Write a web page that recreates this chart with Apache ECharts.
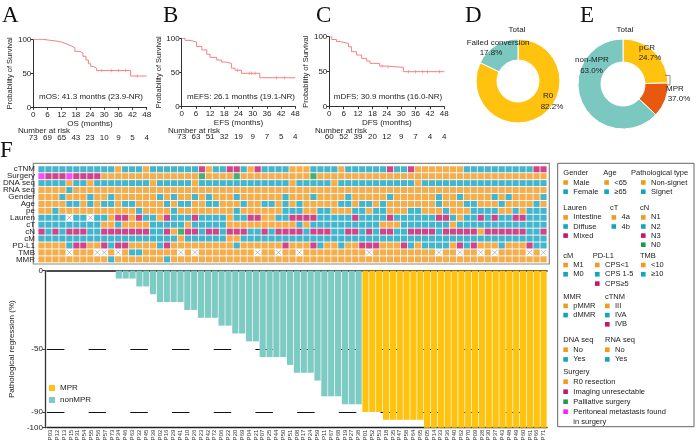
<!DOCTYPE html>
<html>
<head>
<meta charset="utf-8">
<script src="https://cdn.jsdelivr.net/npm/echarts@6/dist/echarts.min.js"></script>
<style>
  html, body { margin: 0; padding: 0; background: #fff; }
  #chart { width: 697px; height: 448px; }
</style>
</head>
<body>
<div id="chart"></div>
<script>
// ---- survival curves ----
const osTime = [0, 4, 7, 10, 12, 14, 16, 17.6, 19.8, 21, 22.3, 23.3, 24.3, 25.4, 26.8, 41.2, 48];
const osSurv = [100, 98.6, 97.3, 95.9, 93.2, 90.4, 87.7, 82.2, 79.5, 75, 69.5, 64, 60, 57.5, 54, 46, 46];
const osCensor = [29, 33, 36, 39, 44];
const osAtRisk = [73, 69, 65, 43, 23, 10, 9, 5, 4];

const efsTime = [0, 1.4, 3.5, 6.3, 8.5, 10.6, 12, 14.8, 16.9, 19, 21, 22.5, 25.3, 33, 48];
const efsSurv = [100, 97, 94.5, 88, 83, 76.5, 72, 68, 65, 63, 56, 53, 48.5, 42, 42];
const efsCensor = [23.5, 28.5, 29.5, 31, 40, 43.5];
const efsAtRisk = [73, 63, 51, 32, 19, 9, 7, 5, 4];

const dfsTime = [0, 1, 3, 4.5, 8, 9.3, 11.4, 13.5, 15.6, 17, 21, 24, 30.9, 48];
const dfsSurv = [100, 96, 93, 90.5, 85.7, 78.6, 73.8, 69, 65.2, 61.9, 58, 56.2, 50, 50];
const dfsCensor = [22, 24.5, 33, 36, 39, 41, 46];
const dfsAtRisk = [60, 52, 39, 20, 12, 9, 7, 4, 4];

// ---- donuts ----
const convNames = ['R0', 'Failed conversion'];
const convCounts = [60, 13];
const respNames = ['pCR', 'MPR', 'non-MPR'];
const respCounts = [18, 9, 46];

// ---- waterfall ----
const patients = ['P03','P12','P13','P15','P31','P54','P55','P56','P57','P73',
  'P34','P46','P63','P32','P45','P39','P02','P16','P29','P41',
  'P10','P26','P23','P42','P72','P06','P22','P20','P69','P04',
  'P21','P07','P25','P44','P50','P51','P08','P17','P24','P59',
  'P11','P67','P68','P19','P27','P38','P01','P52','P53','P18',
  'P35','P47','P58','P64','P65','P05','P14','P33','P36','P40',
  'P62','P70','P09','P28','P30','P37','P43','P48','P49','P60',
  'P61','P66','P71'];
const regression = [0,0,0,0,0,0,0,0,0,0,
  -5,-5,-5,-10,-10,-15,-20,-20,-20,-20,
  -25,-25,-30,-30,-30,-35,-35,-40,-40,-45,
  -45,-55,-55,-55,-55,-60,-65,-65,-65,-70,
  -80,-80,-80,-85,-85,-85,-90,-90,-90,-95,
  -95,-95,-95,-95,-95,-100,-100,-100,-100,-100,
  -100,-100,-100,-100,-100,-100,-100,-100,-100,-100,
  -100,-100,-100];
const mprCutoff = -90;

// ---- clinical heatmap: one string per row, one character per patient ('-' = not available) ----
const rowNames = ['cTNM','Surgery','DNA seq','RNA seq','Gender','Age','pe','Lauren','cT','cN','cM','PD-L1','TMB','MMR'];
const rowCTNM    = '1111111111 1011101111 1112011221 0211110001 1110111111 2112000000 0111111111 122';
const rowSurgery = '3111311110 0000000000 0002000020 0000000002 0000000000 0000000000 0000000000 000';
const rowDNA     = '1111011011 1111110111 1101111111 1111110111 1101111111 1111011111 1111111111 111';
const rowRNA     = '0000100000 0000000000 0000000000 0000000000 0000000000 0000000000 0000000000 000';
const rowGender  = '0001000100 1000000101 0010100010 0000010001 0000100000 1000000100 1000010100 001';
const rowAge     = '0000110101 1011000010 1100110001 0011010100 0001101101 0000000100 0110001000 010';
const rowPe      = '0010000000 0000100001 0000000010 0000011100 1100011011 0001100010 0011110010 111';
const rowLauren  = '1111-11-11 0220211021 1121111011 2200112222 1111121111 2111111221 0112121122 111';
const rowCT      = '1111111110 0100001111 1011111000 0000000101 1111111110 0011111110 1111111111 111';
const rowCN      = '2121222112 2222221120 3221221222 1121222212 2211221212 2112222122 2220222222 112';
const rowCM      = '1111111111 1111111111 0111111001 1111111111 1111111111 1111111111 1111111111 111';
const rowPDL1    = '0000122002 1220000120 0000000010 0000020002 1001002220 0021011110 2120001000 211';
const rowTMB     = '0000-000-- 0-01100000 -0-0000000 0-00-00-00 0000000-00 0000000-00 -00-0-0000 -0-';
const rowMMR     = '0000000000 1000000010 0000000000 0000000000 0000000000 0000000000 0000000000 000';
const heatRows = [rowCTNM, rowSurgery, rowDNA, rowRNA, rowGender, rowAge, rowPe, rowLauren,
  rowCT, rowCN, rowCM, rowPDL1, rowTMB, rowMMR].map(s => s.replace(/ /g, ''));

// ---- colours ----
const ORANGE = '#F39A1E', TEAL = '#14A3C1', CRIMSON = '#C4176C', GREEN = '#1C9A4A', MAGENTA = '#FF1AFF';
const basePalette = [ORANGE, TEAL, CRIMSON, GREEN];
const surgeryPalette = [ORANGE, CRIMSON, GREEN, MAGENTA];
const KM_COLOR = '#F4817F';
const MPR_COLOR = '#FFC20E', NONMPR_COLOR = '#7DCBC3';
const FONT = 'Liberation Sans';

const chart = echarts.init(document.getElementById('chart'));

const grids = [], xAxes = [], yAxes = [], series = [];

// survival value at time t (step function)
function survAt(time, surv, t) {
  let v = surv[0];
  for (let i = 0; i < time.length; i++) if (time[i] <= t) v = surv[i];
  return v;
}

function survivalPanel(box, xName, time, surv, censor, atRisk) {
  const gi = grids.length;
  grids.push({ left: box[0], top: box[1], width: box[2], height: box[3] });
  xAxes.push({
    gridIndex: gi, type: 'value', min: 0, max: 48, interval: 6,
    name: xName, nameLocation: 'middle', nameGap: 12,
    nameTextStyle: { fontSize: 8, color: '#222' },
    axisLine: { lineStyle: { color: '#333', width: 1 } },
    axisTick: { length: 2.5, lineStyle: { color: '#333' } },
    axisLabel: { fontSize: 8, color: '#222', margin: 3 },
    splitLine: { show: false }
  });
  xAxes.push({
    gridIndex: gi, type: 'value', min: 0, max: 48, interval: 6, position: 'bottom', offset: 24,
    axisLine: { show: false }, axisTick: { show: false }, splitLine: { show: false },
    axisLabel: { fontSize: 8, color: '#222', margin: 2, formatter: v => (atRisk[v / 6] !== undefined ? atRisk[v / 6] : '') }
  });
  yAxes.push({
    gridIndex: gi, type: 'value', min: 0, max: 100, interval: 50,
    name: 'Probability of Survival', nameLocation: 'middle', nameGap: 18,
    nameTextStyle: { fontSize: 7.5, color: '#222' },
    axisLine: { show: true, lineStyle: { color: '#333', width: 1 } },
    axisTick: { show: true, length: 2.5, lineStyle: { color: '#333' } },
    axisLabel: { fontSize: 8, color: '#222', margin: 2 },
    splitLine: { show: false }
  });
  const xi = xAxes.length - 2;
  series.push({
    type: 'line', step: 'end', xAxisIndex: xi, yAxisIndex: gi,
    data: time.map((t, i) => [t, surv[i]]), showSymbol: false, silent: true,
    lineStyle: { color: KM_COLOR, width: 1 }
  });
  series.push({
    type: 'scatter', xAxisIndex: xi, yAxisIndex: gi, silent: true,
    symbol: 'rect', symbolSize: [0.8, 3.5], itemStyle: { color: KM_COLOR },
    data: censor.map(t => [t, survAt(time, surv, t)])
  });
}

survivalPanel([33.3, 39.3, 113.4, 68], 'OS (months)', osTime, osSurv, osCensor, osAtRisk);
survivalPanel([181.7, 38.3, 113.6, 68], 'EFS (months)', efsTime, efsSurv, efsCensor, efsAtRisk);
survivalPanel([329.3, 36.7, 115, 70], 'DFS (months)', dfsTime, dfsSurv, dfsCensor, dfsAtRisk);

// heatmap grid
const heatGrid = grids.length;
grids.push({ left: 35.7, top: 165.8, width: 511.3, height: 97 });
const heatX = xAxes.length;
xAxes.push({ gridIndex: heatGrid, type: 'category', data: patients, show: false });
const heatY = yAxes.length;
yAxes.push({
  gridIndex: heatGrid, type: 'category', data: rowNames, inverse: true,
  axisLine: { show: false }, axisTick: { show: false },
  axisLabel: { interval: 0, fontSize: 8, color: '#222', margin: 3, lineHeight: 8 }
});
const cellData = [], missingData = [];
heatRows.forEach((row, r) => {
  const pal = rowNames[r] === 'Surgery' ? surgeryPalette : basePalette;
  for (let c = 0; c < patients.length; c++) {
    const ch = row[c];
    if (ch === '-' || ch === undefined) missingData.push([c, r]);
    else cellData.push({ value: [c, r], itemStyle: { color: pal[+ch] } });
  }
});
series.push({
  type: 'scatter', xAxisIndex: heatX, yAxisIndex: heatY, symbol: 'rect', symbolSize: [6.2, 6.0],
  data: cellData, silent: true
});
series.push({
  type: 'scatter', xAxisIndex: heatX, yAxisIndex: heatY, symbol: 'path://M0,0L10,10M10,0L0,10',
  symbolSize: 5, data: missingData, silent: true,
  itemStyle: { color: 'transparent', borderColor: '#888', borderWidth: 0.7 }
});

// waterfall grid
const wfGrid = grids.length;
grids.push({ left: 35.7, top: 270.7, width: 511.3, height: 157 });
const wfX = xAxes.length;
xAxes.push({
  gridIndex: wfGrid, type: 'category', data: patients, position: 'bottom',
  axisLine: { onZero: false, lineStyle: { color: '#222', width: 1.3 } },
  axisTick: { show: false },
  axisLabel: { interval: 0, rotate: 90, fontSize: 6, color: '#333', margin: 2 }
});
xAxes.push({
  gridIndex: wfGrid, type: 'category', data: patients, position: 'top',
  axisLine: { onZero: false, lineStyle: { color: '#111', width: 1.6 } },
  axisTick: { show: false }, axisLabel: { show: false }
});
const wfY = yAxes.length;
yAxes.push({
  gridIndex: wfGrid, type: 'value', min: -100, max: 0, offset: 2,
  name: 'Pathological regression (%)', nameLocation: 'middle', nameGap: 22,
  nameTextStyle: { fontSize: 8, color: '#222' },
  axisLine: { show: true, lineStyle: { color: '#333', width: 1.3 } },
  axisTick: { show: true, length: 2.5, customValues: [0, -50, -90, -100], lineStyle: { color: '#333' } },
  axisLabel: { fontSize: 8, color: '#222', margin: 2, customValues: [0, -50, -90, -100] },
  splitLine: { show: false }
});
series.push({
  name: 'MPR', type: 'bar', xAxisIndex: wfX, yAxisIndex: wfY, z: 3,
  data: regression.map(v => (v <= mprCutoff ? v : '-')),
  barGap: '-100%', barCategoryGap: '10%', itemStyle: { color: MPR_COLOR }
});
series.push({
  name: 'nonMPR', type: 'bar', xAxisIndex: wfX, yAxisIndex: wfY, z: 3,
  data: regression.map(v => (v > mprCutoff ? v : '-')),
  barGap: '-100%', barCategoryGap: '10%', itemStyle: { color: NONMPR_COLOR }
});
series.push({
  type: 'line', xAxisIndex: wfX, yAxisIndex: wfY, z: 1, data: [], silent: true,
  markLine: {
    z: 1, symbol: 'none', silent: true, label: { show: false },
    lineStyle: { color: '#111', width: 1.2, type: [17.5, 24.2] },
    data: [{ yAxis: -50 }, { yAxis: -90 }]
  }
});

// donuts
const pctText = (n, tot) => (n / tot * 100).toFixed(1) + '%';
const convTot = convCounts.reduce((a, b) => a + b, 0);
const respTot = respCounts.reduce((a, b) => a + b, 0);
series.push({
  type: 'pie', center: [518, 81], radius: [21, 42], startAngle: 90, silent: true, z: 1,
  label: { show: false }, labelLine: { show: false },
  itemStyle: { borderColor: '#fff', borderWidth: 1 },
  data: convNames.map((n, i) => ({ name: n, value: convCounts[i], itemStyle: { color: [MPR_COLOR, '#7BC8C0'][i] } }))
});
series.push({
  type: 'pie', center: [623, 84], radius: [22, 45], startAngle: 90, silent: true, z: 1,
  label: { show: false }, labelLine: { show: false },
  itemStyle: { borderColor: '#fff', borderWidth: 1 },
  data: respNames.map((n, i) => ({ name: n, value: respCounts[i], itemStyle: { color: [MPR_COLOR, '#E9580F', '#7BC8C0'][i] } }))
});

// ---- text & legend box ----
const txt = (x, y, s, opt = {}) => ({
  type: 'text', x, y, z: 100, silent: true,
  style: Object.assign({ text: s, fontSize: 8, fontFamily: FONT, fill: '#222', textVerticalAlign: 'middle' }, opt)
});
const letter = (x, y, s) => ({
  type: 'text', x, y, z: 100, silent: true,
  style: { text: s, fontSize: 23, fontFamily: 'Liberation Serif', fill: '#111' }
});

const graphics = [
  letter(2, 4, 'A'), letter(163, 4, 'B'), letter(316, 4, 'C'), letter(465, 4, 'D'), letter(580, 4, 'E'), letter(0, 139, 'F'),
  txt(91, 97, 'mOS: 41.3 months (23.9-NR)', { textAlign: 'center' }),
  txt(241, 97, 'mEFS: 26.1 months (19.1-NR)', { textAlign: 'center' }),
  txt(388, 96.5, 'mDFS: 30.9 months (16.0-NR)', { textAlign: 'center' }),
  txt(18, 131, 'Number at risk'), txt(168, 131, 'Number at risk'), txt(315, 131, 'Number at risk'),
  txt(517, 30, 'Total', { textAlign: 'center' }), txt(625, 30, 'Total', { textAlign: 'center' }),
  txt(498, 43, convNames[1], { textAlign: 'center' }), txt(491, 52.5, pctText(convCounts[1], convTot), { textAlign: 'center' }),
  txt(548, 96, convNames[0], { textAlign: 'center' }), txt(552, 106.5, pctText(convCounts[0], convTot), { textAlign: 'center' }),
  txt(647, 48, respNames[0], { textAlign: 'center' }), txt(650, 57.5, pctText(respCounts[0], respTot), { textAlign: 'center' }),
  txt(592, 60, respNames[2], { textAlign: 'center' }), txt(591.5, 71, pctText(respCounts[2], respTot), { textAlign: 'center' }),
  txt(675, 89, respNames[1], { textAlign: 'center' }), txt(679, 98.5, pctText(respCounts[0] + respCounts[1], respTot), { textAlign: 'center' }),
  { type: 'polyline', z: 100, silent: true, shape: { points: [[665, 75.5], [670, 75.5], [670, 85], [667, 85]] }, style: { stroke: '#777', lineWidth: 0.8, fill: null } },
  { type: 'rect', silent: true, shape: { x: 33.3, y: 163.3, width: 516, height: 100.7 }, style: { fill: null, stroke: '#8a8a8a', lineWidth: 1.2 } },
  { type: 'rect', silent: true, shape: { x: 557.7, y: 163.3, width: 136.3, height: 263.4 }, style: { fill: null, stroke: '#666', lineWidth: 1 } }
];

function legendBlock(tx, sx, ty, title, labels, colors, step) {
  graphics.push(txt(tx, ty, title, { fontSize: 7.5 }));
  labels.forEach((l, i) => {
    const y = ty + step * (i + 1);
    if (colors[i]) graphics.push({ type: 'rect', silent: true, shape: { x: sx, y: y - 2.3, width: 4.6, height: 4.6 }, style: { fill: colors[i] } });
    graphics.push(txt(sx + 10, y, l, { fontSize: 7.5 }));
  });
}
legendBlock(563.3, 563.3, 173.3, 'Gender', ['Male', 'Female'], [ORANGE, TEAL], 9.2);
legendBlock(603.3, 604.3, 173.3, 'Age', ['<65', '\u226565'], [ORANGE, TEAL], 9.2);
legendBlock(631, 641, 173.3, 'Pathological type', ['Non-signet', 'Signet'], [ORANGE, TEAL], 9.2);
legendBlock(563.3, 563.3, 208.3, 'Lauren', ['Intestine', 'Diffuse', 'Mixed'], [ORANGE, TEAL, CRIMSON], 9.1);
legendBlock(610, 611.5, 208.3, 'cT', ['4a', '4b'], [ORANGE, TEAL], 9.1);
legendBlock(640, 641, 208.3, 'cN', ['N1', 'N2', 'N3', 'N0'], [ORANGE, TEAL, CRIMSON, GREEN], 9.1);
legendBlock(563.3, 563.3, 255.7, 'cM', ['M1', 'M0'], [ORANGE, TEAL], 9.3);
legendBlock(592.7, 595, 255.7, 'PD-L1', ['CPS<1', 'CPS 1-5', 'CPS\u22655'], [ORANGE, TEAL, CRIMSON], 9.3);
legendBlock(640, 641, 255.7, 'TMB', ['<10', '\u226510'], [ORANGE, TEAL], 9.3);
legendBlock(563.3, 563.3, 296.7, 'MMR', ['pMMR', 'dMMR'], [ORANGE, TEAL], 9.2);
legendBlock(605, 605, 296.7, 'cTNM', ['III', 'IVA', 'IVB'], [ORANGE, TEAL, CRIMSON], 9.2);
legendBlock(563.3, 563.3, 340, 'DNA seq', ['No', 'Yes'], [ORANGE, TEAL], 9.7);
legendBlock(605, 605, 340, 'RNA seq', ['No', 'Yes'], [ORANGE, TEAL], 9.7);
legendBlock(563.3, 563.3, 371.7, 'Surgery',
  ['R0 resection', 'Imaging unresectable', 'Palliative surgery', 'Peritoneal metastasis found', 'in surgery'],
  [ORANGE, CRIMSON, GREEN, MAGENTA, null], 10);

chart.setOption({
  animation: false,
  textStyle: { fontFamily: FONT },
  grid: grids,
  xAxis: xAxes,
  yAxis: yAxes,
  legend: {
    data: ['MPR', 'nonMPR'], orient: 'vertical', left: 44, top: 379,
    itemWidth: 6, itemHeight: 6, itemGap: 4, icon: 'rect',
    textStyle: { fontSize: 8, color: '#222', fontFamily: FONT }
  },
  series,
  graphic: graphics
});
</script>
</body>
</html>
